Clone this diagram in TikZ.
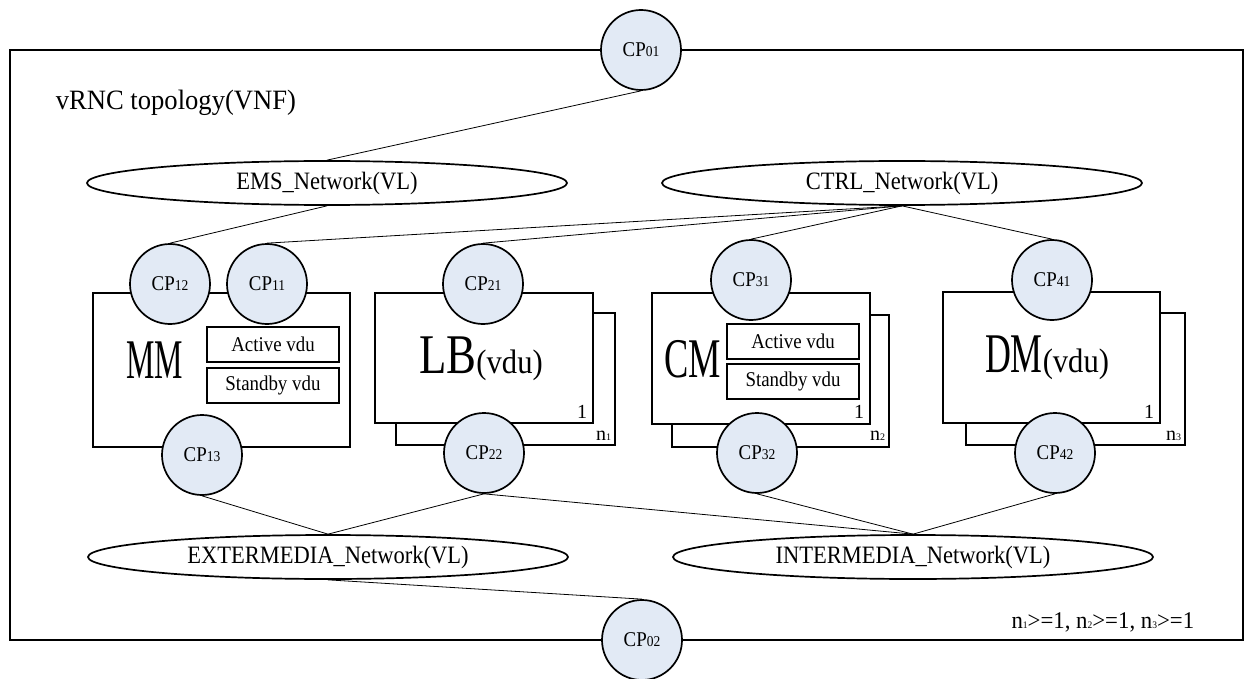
\documentclass[tikz,border=0pt]{standalone}
\usepackage{fontspec}
\usepackage{graphicx}
\usetikzlibrary{shapes.geometric,backgrounds}
\newfontfamily\cnf[FakeStretch=0.9]{Liberation Serif}
\newfontfamily\cnw[FakeStretch=0.95]{Liberation Serif}
\newfontfamily\srf{Liberation Serif}
\definecolor{cpblue}{RGB}{226,234,245}
\newcommand\cplab[1]{CP{\fontsize{7.5}{7.5}\selectfont #1}}
\newcommand\nlab[1]{n{\fontsize{5}{5}\selectfont #1}}
\begin{document}
\begin{tikzpicture}[x=0.5pt,y=-0.5pt,line width=0.85pt]
\tikzset{
 cp/.style={circle,draw,fill=cpblue,minimum size=40pt,inner sep=0pt,font=\cnf\fontsize{10.5}{10.5}\selectfont},
 vl/.style={ellipse,draw,fill=white,minimum width=240pt,minimum height=22pt,inner sep=0pt,font=\cnf\fontsize{12.5}{12.5}\selectfont},
 vdubox/.style={draw,fill=white,minimum width=66pt,minimum height=17.5pt,inner sep=0pt,font=\cnf\fontsize{10.5}{10.5}\selectfont},
 big/.style={font=\srf\fontsize{28}{28}\selectfont,inner sep=0pt,anchor=base},
 onelab/.style={font=\srf\fontsize{10}{10}\selectfont,inner sep=0pt,anchor=base east},
 nl/.style={font=\srf\fontsize{10}{10}\selectfont,inner sep=0pt,anchor=base east},
 frame/.style={draw,fill=white},
 conn/.style={draw},
}
\useasboundingbox (0,0) rectangle (1246,679);
\draw (10,50) rectangle (1243,640);
\node[font=\cnw\fontsize{14}{14}\selectfont,anchor=base west,inner sep=0pt] (title) at (55,110) {vRNC topology(VNF)};

% VNF component boxes
\draw[frame] (93,293) rectangle (350,447);
\node[vdubox] (mmact) at (273,344.5) {Active vdu};
\node[vdubox] (mmsb) at (273,385.5) {Standby vdu};
\node[big] (mm) at (155,378) {\scalebox{0.57}[1]{MM}};

\draw[frame] (396,313) rectangle (615,445);
\draw[frame] (375,293) rectangle (593,423);
\node[big] (lb) at (481,373) {\scalebox{0.8}[1]{LB}{\cnf\fontsize{17}{17}\selectfont(vdu)}};
\node[onelab] (lb1) at (588,418) {1};
\node[nl] (lbn) at (612,440) {\nlab{1}};

\draw[frame] (672,315) rectangle (889,447);
\draw[frame] (652,293) rectangle (870,424);
\node[vdubox] (cmact) at (793,341.5) {Active vdu};
\node[vdubox] (cmsb) at (793,381.5) {Standby vdu};
\node[big] (cm) at (693,377) {\scalebox{0.65}[1]{CM}};
\node[onelab] (cm1) at (865,418) {1};
\node[nl] (cmn) at (886,440) {\nlab{2}};

\draw[frame] (966,313) rectangle (1185,445);
\draw[frame] (943,292) rectangle (1160,423);
\node[big] (dm) at (1047,372) {\scalebox{0.64}[1]{DM}{\cnf\fontsize{17}{17}\selectfont(vdu)}};
\node[onelab] (dm1) at (1155,418) {1};
\node[nl] (dmn) at (1182,440) {\nlab{3}};

% virtual links
\node[vl] (ems) at (327,183) {EMS\_Network(VL)};
\node[vl] (ctrl) at (902,183) {CTRL\_Network(VL)};
\node[vl] (ext) at (328,557) {EXTERMEDIA\_Network(VL)};
\node[vl] (int) at (913,557) {INTERMEDIA\_Network(VL)};

% connection points
\node[cp] (cp01) at (641,50) {\cplab{01}};
\node[cp] (cp02) at (642,640) {\cplab{02}};
\node[cp] (cp12) at (170,284) {\cplab{12}};
\node[cp] (cp11) at (267,284) {\cplab{11}};
\node[cp] (cp13) at (202,455) {\cplab{13}};
\node[cp] (cp21) at (483,284) {\cplab{21}};
\node[cp] (cp22) at (484,453) {\cplab{22}};
\node[cp] (cp31) at (751,280) {\cplab{31}};
\node[cp] (cp32) at (757,453) {\cplab{32}};
\node[cp] (cp41) at (1052,280) {\cplab{41}};
\node[cp] (cp42) at (1055,453) {\cplab{42}};

\node[font=\cnw\fontsize{12}{12}\selectfont,anchor=base east,inner sep=0pt] (cond) at (1195,628) {\nlab{1}>=1, \nlab{2}>=1, \nlab{3}>=1};

\begin{scope}[on background layer]
\draw[conn] (cp01.south) -- (ems.north);
\draw[conn] (ems.south) -- (cp12.north);
\draw[conn] (ctrl.south) -- (cp11.north);
\draw[conn] (ctrl.south) -- (cp21.north);
\draw[conn] (ctrl.south) -- (cp31.north);
\draw[conn] (ctrl.south) -- (cp41.north);
\draw[conn] (cp13.south) -- (ext.north);
\draw[conn] (cp22.south) -- (ext.north);
\draw[conn] (cp22.south) -- (int.north);
\draw[conn] (cp32.south) -- (int.north);
\draw[conn] (cp42.south) -- (int.north);
\draw[conn] (ext.south) -- (cp02.north);
\end{scope}
\end{tikzpicture}
\end{document}
